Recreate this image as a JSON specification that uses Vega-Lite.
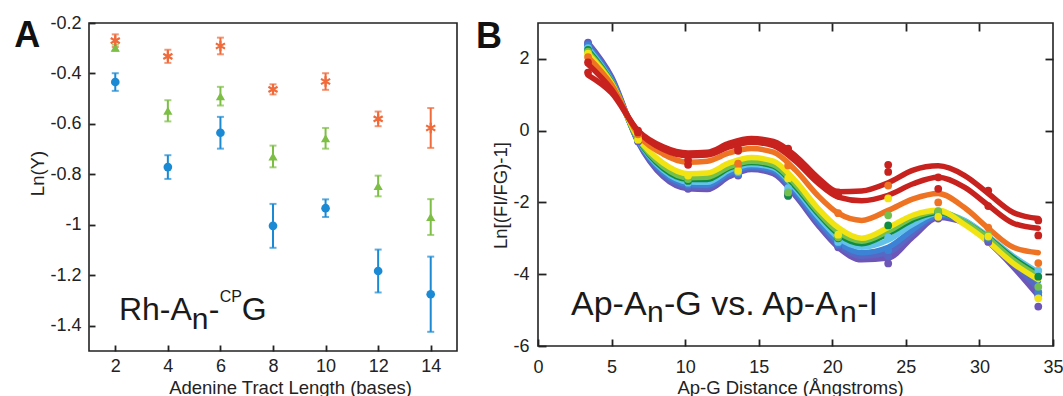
{
  "$schema": "https://vega.github.io/schema/vega-lite/v6.json",
  "background": "white",
  "padding": {"left": 13, "top": 13, "right": 0, "bottom": 0},
  "spacing": 17,
  "resolve": {"scale": {"color": "independent"}},
  "config": {
    "font": "Liberation Sans",
    "view": {"stroke": "#222", "strokeWidth": 1.6},
    "axis": {"grid": false, "domain": false, "tickColor": "#222", "tickWidth": 1.8, "labelColor": "#222", "titleColor": "#222", "labelFont": "Liberation Sans", "titleFont": "Liberation Sans", "titleFontWeight": "normal", "labelFontSize": 18, "titleFontSize": 18.5, "labelFlush": false}
  },
  "datasets": {
    "lenA": [
      {"n": 2, "s": "blue", "v": -0.434, "lo": -0.469, "hi": -0.399},
      {"n": 4, "s": "blue", "v": -0.771, "lo": -0.818, "hi": -0.724},
      {"n": 6, "s": "blue", "v": -0.635, "lo": -0.698, "hi": -0.572},
      {"n": 8, "s": "blue", "v": -1.004, "lo": -1.091, "hi": -0.917},
      {"n": 10, "s": "blue", "v": -0.934, "lo": -0.969, "hi": -0.899},
      {"n": 12, "s": "blue", "v": -1.183, "lo": -1.268, "hi": -1.098},
      {"n": 14, "s": "blue", "v": -1.275, "lo": -1.424, "hi": -1.126},
      {"n": 2, "s": "green", "v": -0.298, "lo": -0.31, "hi": -0.286},
      {"n": 4, "s": "green", "v": -0.548, "lo": -0.59, "hi": -0.506},
      {"n": 6, "s": "green", "v": -0.49, "lo": -0.527, "hi": -0.453},
      {"n": 8, "s": "green", "v": -0.729, "lo": -0.772, "hi": -0.686},
      {"n": 10, "s": "green", "v": -0.657, "lo": -0.698, "hi": -0.616},
      {"n": 12, "s": "green", "v": -0.846, "lo": -0.887, "hi": -0.805},
      {"n": 14, "s": "green", "v": -0.969, "lo": -1.04, "hi": -0.898},
      {"n": 2, "s": "orange", "v": -0.27, "lo": -0.295, "hi": -0.245},
      {"n": 4, "s": "orange", "v": -0.332, "lo": -0.358, "hi": -0.306},
      {"n": 6, "s": "orange", "v": -0.291, "lo": -0.324, "hi": -0.258},
      {"n": 8, "s": "orange", "v": -0.463, "lo": -0.483, "hi": -0.443},
      {"n": 10, "s": "orange", "v": -0.432, "lo": -0.465, "hi": -0.399},
      {"n": 12, "s": "orange", "v": -0.58, "lo": -0.609, "hi": -0.551},
      {"n": 14, "s": "orange", "v": -0.616, "lo": -0.695, "hi": -0.537}
    ],
    "curves": [
      {"x":3.4,"k":"P","v":2.45},{"x":5,"k":"P","v":1.5},{"x":6.8,"k":"P","v":-0.32},{"x":8.5,"k":"P","v":-1.28},{"x":10.2,"k":"P","v":-1.62},{"x":11.5,"k":"P","v":-1.64},{"x":13,"k":"P","v":-1.28},{"x":14.5,"k":"P","v":-1.08},{"x":16,"k":"P","v":-1.2},{"x":17.5,"k":"P","v":-1.82},{"x":19,"k":"P","v":-2.62},{"x":20.4,"k":"P","v":-3.25},{"x":22,"k":"P","v":-3.6},{"x":23.8,"k":"P","v":-3.55},{"x":25.5,"k":"P","v":-2.95},{"x":27.2,"k":"P","v":-2.42},{"x":29,"k":"P","v":-2.58},{"x":30.6,"k":"P","v":-3.1},{"x":32.3,"k":"P","v":-3.8},{"x":34,"k":"P","v":-4.6},
      {"x":3.4,"k":"S","v":2.4},{"x":5,"k":"S","v":1.46},{"x":6.8,"k":"S","v":-0.3},{"x":8.5,"k":"S","v":-1.22},{"x":10.2,"k":"S","v":-1.56},{"x":11.5,"k":"S","v":-1.58},{"x":13,"k":"S","v":-1.23},{"x":14.5,"k":"S","v":-1.04},{"x":16,"k":"S","v":-1.15},{"x":17.5,"k":"S","v":-1.76},{"x":19,"k":"S","v":-2.55},{"x":20.4,"k":"S","v":-3.18},{"x":22,"k":"S","v":-3.5},{"x":23.8,"k":"S","v":-3.4},{"x":25.5,"k":"S","v":-2.85},{"x":27.2,"k":"S","v":-2.38},{"x":29,"k":"S","v":-2.55},{"x":30.6,"k":"S","v":-3.05},{"x":32.3,"k":"S","v":-3.7},{"x":34,"k":"S","v":-4.4},
      {"x":3.4,"k":"B","v":2.35},{"x":5,"k":"B","v":1.42},{"x":6.8,"k":"B","v":-0.28},{"x":8.5,"k":"B","v":-1.16},{"x":10.2,"k":"B","v":-1.5},{"x":11.5,"k":"B","v":-1.52},{"x":13,"k":"B","v":-1.18},{"x":14.5,"k":"B","v":-1.0},{"x":16,"k":"B","v":-1.1},{"x":17.5,"k":"B","v":-1.7},{"x":19,"k":"B","v":-2.48},{"x":20.4,"k":"B","v":-3.1},{"x":22,"k":"B","v":-3.4},{"x":23.8,"k":"B","v":-3.25},{"x":25.5,"k":"B","v":-2.75},{"x":27.2,"k":"B","v":-2.35},{"x":29,"k":"B","v":-2.52},{"x":30.6,"k":"B","v":-3.0},{"x":32.3,"k":"B","v":-3.6},{"x":34,"k":"B","v":-4.2},
      {"x":3.4,"k":"LB","v":2.3},{"x":5,"k":"LB","v":1.38},{"x":6.8,"k":"LB","v":-0.26},{"x":8.5,"k":"LB","v":-1.1},{"x":10.2,"k":"LB","v":-1.43},{"x":11.5,"k":"LB","v":-1.44},{"x":13,"k":"LB","v":-1.1},{"x":14.5,"k":"LB","v":-0.94},{"x":16,"k":"LB","v":-1.04},{"x":17.5,"k":"LB","v":-1.62},{"x":19,"k":"LB","v":-2.38},{"x":20.4,"k":"LB","v":-2.98},{"x":22,"k":"LB","v":-3.25},{"x":23.8,"k":"LB","v":-3.05},{"x":25.5,"k":"LB","v":-2.6},{"x":27.2,"k":"LB","v":-2.3},{"x":29,"k":"LB","v":-2.5},{"x":30.6,"k":"LB","v":-2.95},{"x":32.3,"k":"LB","v":-3.5},{"x":34,"k":"LB","v":-3.95},
      {"x":3.4,"k":"DG","v":2.25},{"x":5,"k":"DG","v":1.36},{"x":6.8,"k":"DG","v":-0.24},{"x":8.5,"k":"DG","v":-1.05},{"x":10.2,"k":"DG","v":-1.36},{"x":11.5,"k":"DG","v":-1.36},{"x":13,"k":"DG","v":-1.04},{"x":14.5,"k":"DG","v":-0.89},{"x":16,"k":"DG","v":-0.99},{"x":17.5,"k":"DG","v":-1.56},{"x":19,"k":"DG","v":-2.3},{"x":20.4,"k":"DG","v":-2.88},{"x":22,"k":"DG","v":-3.15},{"x":23.8,"k":"DG","v":-2.87},{"x":25.5,"k":"DG","v":-2.48},{"x":27.2,"k":"DG","v":-2.28},{"x":29,"k":"DG","v":-2.55},{"x":30.6,"k":"DG","v":-2.98},{"x":32.3,"k":"DG","v":-3.55},{"x":34,"k":"DG","v":-4.0},
      {"x":3.4,"k":"LG","v":2.2},{"x":5,"k":"LG","v":1.34},{"x":6.8,"k":"LG","v":-0.22},{"x":8.5,"k":"LG","v":-1.0},{"x":10.2,"k":"LG","v":-1.31},{"x":11.5,"k":"LG","v":-1.3},{"x":13,"k":"LG","v":-1.0},{"x":14.5,"k":"LG","v":-0.85},{"x":16,"k":"LG","v":-0.95},{"x":17.5,"k":"LG","v":-1.5},{"x":19,"k":"LG","v":-2.25},{"x":20.4,"k":"LG","v":-2.82},{"x":22,"k":"LG","v":-3.08},{"x":23.8,"k":"LG","v":-2.8},{"x":25.5,"k":"LG","v":-2.42},{"x":27.2,"k":"LG","v":-2.25},{"x":29,"k":"LG","v":-2.55},{"x":30.6,"k":"LG","v":-3.0},{"x":32.3,"k":"LG","v":-3.6},{"x":34,"k":"LG","v":-4.05},
      {"x":3.4,"k":"Y","v":2.15},{"x":5,"k":"Y","v":1.32},{"x":6.8,"k":"Y","v":-0.2},{"x":8.5,"k":"Y","v":-0.9},{"x":10.2,"k":"Y","v":-1.2},{"x":11.5,"k":"Y","v":-1.18},{"x":13,"k":"Y","v":-0.9},{"x":14.5,"k":"Y","v":-0.75},{"x":16,"k":"Y","v":-0.85},{"x":17.5,"k":"Y","v":-1.4},{"x":19,"k":"Y","v":-2.15},{"x":20.4,"k":"Y","v":-2.7},{"x":22,"k":"Y","v":-3.0},{"x":23.8,"k":"Y","v":-2.7},{"x":25.5,"k":"Y","v":-2.35},{"x":27.2,"k":"Y","v":-2.22},{"x":29,"k":"Y","v":-2.62},{"x":30.6,"k":"Y","v":-3.1},{"x":32.3,"k":"Y","v":-3.7},{"x":34,"k":"Y","v":-4.15},
      {"x":3.4,"k":"O","v":2.05},{"x":5,"k":"O","v":1.28},{"x":6.8,"k":"O","v":-0.1},{"x":8.5,"k":"O","v":-0.65},{"x":10.2,"k":"O","v":-0.88},{"x":11.5,"k":"O","v":-0.85},{"x":13,"k":"O","v":-0.62},{"x":14.5,"k":"O","v":-0.5},{"x":16,"k":"O","v":-0.6},{"x":17.5,"k":"O","v":-1.1},{"x":19,"k":"O","v":-1.8},{"x":20.4,"k":"O","v":-2.3},{"x":22,"k":"O","v":-2.5},{"x":23.8,"k":"O","v":-2.22},{"x":25.5,"k":"O","v":-1.9},{"x":27.2,"k":"O","v":-1.75},{"x":29,"k":"O","v":-2.15},{"x":30.6,"k":"O","v":-2.72},{"x":32.3,"k":"O","v":-3.25},{"x":34,"k":"O","v":-3.4},
      {"x":3.4,"k":"R2","v":1.85},{"x":5,"k":"R2","v":1.15},{"x":6.8,"k":"R2","v":-0.02},{"x":8.5,"k":"R2","v":-0.52},{"x":10.2,"k":"R2","v":-0.7},{"x":11.5,"k":"R2","v":-0.68},{"x":13,"k":"R2","v":-0.45},{"x":14.5,"k":"R2","v":-0.32},{"x":16,"k":"R2","v":-0.42},{"x":17.5,"k":"R2","v":-0.85},{"x":19,"k":"R2","v":-1.45},{"x":20.4,"k":"R2","v":-1.85},{"x":22,"k":"R2","v":-1.95},{"x":23.8,"k":"R2","v":-1.8},{"x":25.5,"k":"R2","v":-1.48},{"x":27.2,"k":"R2","v":-1.3},{"x":29,"k":"R2","v":-1.58},{"x":30.6,"k":"R2","v":-2.08},{"x":32.3,"k":"R2","v":-2.58},{"x":34,"k":"R2","v":-2.72},
      {"x":3.4,"k":"R1","v":1.55},{"x":5,"k":"R1","v":1.05},{"x":6.8,"k":"R1","v":0.0},{"x":8.5,"k":"R1","v":-0.45},{"x":10.2,"k":"R1","v":-0.62},{"x":11.5,"k":"R1","v":-0.6},{"x":13,"k":"R1","v":-0.35},{"x":14.5,"k":"R1","v":-0.22},{"x":16,"k":"R1","v":-0.3},{"x":17.5,"k":"R1","v":-0.7},{"x":19,"k":"R1","v":-1.3},{"x":20.4,"k":"R1","v":-1.7},{"x":22,"k":"R1","v":-1.68},{"x":23.8,"k":"R1","v":-1.45},{"x":25.5,"k":"R1","v":-1.1},{"x":27.2,"k":"R1","v":-0.98},{"x":29,"k":"R1","v":-1.25},{"x":30.6,"k":"R1","v":-1.75},{"x":32.3,"k":"R1","v":-2.28},{"x":34,"k":"R1","v":-2.45}
    ],
    "dots": [
      {"x":3.4,"k":"P","v":2.45},{"x":6.8,"k":"P","v":-0.3},{"x":10.2,"k":"P","v":-1.62},{"x":13.6,"k":"P","v":-1.25},{"x":17,"k":"P","v":-1.82},{"x":20.4,"k":"P","v":-3.25},{"x":23.8,"k":"P","v":-3.7},{"x":27.2,"k":"P","v":-2.45},{"x":30.6,"k":"P","v":-3.1},{"x":34,"k":"P","v":-4.9},
      {"x":3.4,"k":"S","v":2.42},{"x":6.8,"k":"S","v":-0.28},{"x":10.2,"k":"S","v":-1.56},{"x":13.6,"k":"S","v":-1.22},{"x":17,"k":"S","v":-1.76},{"x":20.4,"k":"S","v":-3.2},{"x":23.8,"k":"S","v":-3.5},{"x":27.2,"k":"S","v":-2.4},{"x":30.6,"k":"S","v":-3.05},{"x":34,"k":"S","v":-4.6},
      {"x":3.4,"k":"B","v":2.38},{"x":6.8,"k":"B","v":-0.26},{"x":10.2,"k":"B","v":-1.5},{"x":13.6,"k":"B","v":-1.2},{"x":17,"k":"B","v":-1.7},{"x":20.4,"k":"B","v":-3.15},{"x":23.8,"k":"B","v":-3.33},{"x":27.2,"k":"B","v":-2.35},{"x":30.6,"k":"B","v":-3.0},{"x":34,"k":"B","v":-4.5},
      {"x":3.4,"k":"LB","v":2.3},{"x":6.8,"k":"LB","v":-0.24},{"x":10.2,"k":"LB","v":-1.45},{"x":13.6,"k":"LB","v":-1.15},{"x":17,"k":"LB","v":-1.6},{"x":20.4,"k":"LB","v":-3.1},{"x":23.8,"k":"LB","v":-2.97},{"x":27.2,"k":"LB","v":-2.24},{"x":30.6,"k":"LB","v":-2.95},{"x":34,"k":"LB","v":-3.9},
      {"x":3.4,"k":"DG","v":2.25},{"x":6.8,"k":"DG","v":-0.22},{"x":10.2,"k":"DG","v":-1.4},{"x":13.6,"k":"DG","v":-1.1},{"x":17,"k":"DG","v":-1.8},{"x":20.4,"k":"DG","v":-3.0},{"x":23.8,"k":"DG","v":-2.64},{"x":27.2,"k":"DG","v":-2.28},{"x":30.6,"k":"DG","v":-2.95},{"x":34,"k":"DG","v":-4.07},
      {"x":3.4,"k":"LG","v":2.2},{"x":6.8,"k":"LG","v":-0.22},{"x":10.2,"k":"LG","v":-1.35},{"x":13.6,"k":"LG","v":-1.05},{"x":17,"k":"LG","v":-1.72},{"x":20.4,"k":"LG","v":-2.97},{"x":23.8,"k":"LG","v":-2.36},{"x":27.2,"k":"LG","v":-2.25},{"x":30.6,"k":"LG","v":-2.9},{"x":34,"k":"LG","v":-4.35},
      {"x":3.4,"k":"Y","v":2.15},{"x":6.8,"k":"Y","v":-0.25},{"x":10.2,"k":"Y","v":-1.25},{"x":13.6,"k":"Y","v":-1.12},{"x":17,"k":"Y","v":-1.33},{"x":20.4,"k":"Y","v":-2.9},{"x":23.8,"k":"Y","v":-1.89},{"x":27.2,"k":"Y","v":-2.4},{"x":30.6,"k":"Y","v":-2.95},{"x":34,"k":"Y","v":-4.67},
      {"x":3.4,"k":"O","v":2.05},{"x":6.8,"k":"O","v":-0.1},{"x":10.2,"k":"O","v":-0.9},{"x":13.6,"k":"O","v":-0.92},{"x":17,"k":"O","v":-0.97},{"x":20.4,"k":"O","v":-2.3},{"x":23.8,"k":"O","v":-1.53},{"x":27.2,"k":"O","v":-2.0},{"x":30.6,"k":"O","v":-2.7},{"x":34,"k":"O","v":-3.69},
      {"x":3.4,"k":"R2","v":1.9},{"x":6.8,"k":"R2","v":-0.05},{"x":10.2,"k":"R2","v":-0.82},{"x":13.6,"k":"R2","v":-0.56},{"x":17,"k":"R2","v":-0.62},{"x":20.4,"k":"R2","v":-1.8},{"x":23.8,"k":"R2","v":-1.15},{"x":27.2,"k":"R2","v":-1.62},{"x":30.6,"k":"R2","v":-2.1},{"x":34,"k":"R2","v":-2.92},
      {"x":3.4,"k":"R1","v":1.62},{"x":6.8,"k":"R1","v":0.0},{"x":10.2,"k":"R1","v":-0.95},{"x":13.6,"k":"R1","v":-0.5},{"x":17,"k":"R1","v":-0.5},{"x":20.4,"k":"R1","v":-1.72},{"x":23.8,"k":"R1","v":-0.95},{"x":27.2,"k":"R1","v":-1.3},{"x":30.6,"k":"R1","v":-1.67},{"x":34,"k":"R1","v":-2.5}
    ]
  },
  "hconcat": [
    {
      "width": 368,
      "height": 328,
      "layer": [
        {
          "data": {"name": "lenA"},
          "mark": {"type": "rule", "strokeWidth": 2},
          "encoding": {
            "x": {"field": "n", "type": "quantitative", "scale": {"domain": [1, 15]}, "axis": {"values": [2, 4, 6, 8, 10, 12, 14], "tickSize": -6, "labelPadding": 12, "title": "Adenine Tract Length (bases)", "titleX": 201, "titleY": 42, "titleBaseline": "alphabetic", "titleAnchor": "middle"}},
            "y": {"field": "lo", "type": "quantitative", "scale": {"domain": [-1.5, -0.2]}, "axis": {"values": [-1.4, -1.2, -1, -0.8, -0.6, -0.4, -0.2], "labelExpr": "'' + datum.value", "tickSize": -6, "labelPadding": 14, "title": "Ln(Y)", "titleX": -46, "titleY": 150, "titleBaseline": "alphabetic", "titleAnchor": "middle"}},
            "y2": {"field": "hi"},
            "color": {"field": "s", "type": "nominal", "scale": {"domain": ["blue", "green", "orange"], "range": ["#1A8AD4", "#7DBE45", "#F06A3A"]}, "legend": null}
          }
        },
        {
          "data": {"name": "lenA"},
          "mark": {"type": "tick", "orient": "horizontal", "size": 7, "thickness": 2},
          "encoding": {
            "x": {"field": "n", "type": "quantitative"},
            "y": {"field": "lo", "type": "quantitative"},
            "color": {"field": "s", "type": "nominal", "legend": null}
          }
        },
        {
          "data": {"name": "lenA"},
          "mark": {"type": "tick", "orient": "horizontal", "size": 7, "thickness": 2},
          "encoding": {
            "x": {"field": "n", "type": "quantitative"},
            "y": {"field": "hi", "type": "quantitative"},
            "color": {"field": "s", "type": "nominal", "legend": null}
          }
        },
        {
          "data": {"name": "lenA"},
          "transform": [{"filter": "datum.s === 'blue'"}],
          "mark": {"type": "point", "shape": "circle", "filled": true, "size": 75, "opacity": 1},
          "encoding": {
            "x": {"field": "n", "type": "quantitative"},
            "y": {"field": "v", "type": "quantitative"},
            "color": {"field": "s", "type": "nominal", "legend": null}
          }
        },
        {
          "data": {"name": "lenA"},
          "transform": [{"filter": "datum.s === 'green'"}],
          "mark": {"type": "point", "shape": "triangle-up", "filled": true, "size": 85, "opacity": 1},
          "encoding": {
            "x": {"field": "n", "type": "quantitative"},
            "y": {"field": "v", "type": "quantitative"},
            "color": {"field": "s", "type": "nominal", "legend": null}
          }
        },
        {
          "data": {"name": "lenA"},
          "transform": [{"filter": "datum.s === 'orange'"}],
          "mark": {"type": "point", "shape": "M0,-1L0,1M-0.87,-0.5L0.87,0.5M-0.87,0.5L0.87,-0.5", "filled": false, "size": 110, "strokeWidth": 2.2, "opacity": 1},
          "encoding": {
            "x": {"field": "n", "type": "quantitative"},
            "y": {"field": "v", "type": "quantitative"},
            "color": {"field": "s", "type": "nominal", "legend": null}
          }
        },
        {
          "data": {"values": [{}]},
          "mark": {"type": "text", "text": "A", "fontSize": 36, "fontWeight": "bold", "align": "left", "baseline": "alphabetic", "color": "#111"},
          "encoding": {"x": {"datum": -1.848, "type": "quantitative"}, "y": {"datum": -0.295, "type": "quantitative"}}
        },
        {
          "data": {"values": [{}]},
          "mark": {"type": "text", "text": "Rh-A", "fontSize": 32, "fontWeight": "normal", "align": "left", "baseline": "alphabetic", "color": "#1a1a1a"},
          "encoding": {"x": {"datum": 2.139, "type": "quantitative"}, "y": {"datum": -1.376, "type": "quantitative"}}
        },
        {
          "data": {"values": [{}]},
          "mark": {"type": "text", "text": "n", "fontSize": 30, "fontWeight": "normal", "align": "left", "baseline": "alphabetic", "color": "#1a1a1a"},
          "encoding": {"x": {"datum": 4.912, "type": "quantitative"}, "y": {"datum": -1.412, "type": "quantitative"}}
        },
        {
          "data": {"values": [{}]},
          "mark": {"type": "text", "text": "-", "fontSize": 32, "fontWeight": "normal", "align": "left", "baseline": "alphabetic", "color": "#1a1a1a"},
          "encoding": {"x": {"datum": 5.557, "type": "quantitative"}, "y": {"datum": -1.376, "type": "quantitative"}}
        },
        {
          "data": {"values": [{}]},
          "mark": {"type": "text", "text": "CP", "fontSize": 16, "fontWeight": "normal", "align": "left", "baseline": "alphabetic", "color": "#1a1a1a"},
          "encoding": {"x": {"datum": 5.975, "type": "quantitative"}, "y": {"datum": -1.305, "type": "quantitative"}}
        },
        {
          "data": {"values": [{}]},
          "mark": {"type": "text", "text": "G", "fontSize": 32, "fontWeight": "normal", "align": "left", "baseline": "alphabetic", "color": "#1a1a1a"},
          "encoding": {"x": {"datum": 6.811, "type": "quantitative"}, "y": {"datum": -1.376, "type": "quantitative"}}
        }
      ]
    },
    {
      "width": 515,
      "height": 323,
      "resolve": {"axis": {"x": "independent", "y": "independent"}},
      "layer": [
        {
          "data": {"name": "curves"},
          "mark": {"type": "line", "interpolate": "monotone", "strokeWidth": 5.5, "strokeCap": "round", "strokeJoin": "round"},
          "encoding": {
            "x": {"field": "x", "type": "quantitative", "scale": {"domain": [0, 35]}, "axis": {"values": [0, 5, 10, 15, 20, 25, 30, 35], "tickSize": -7, "labelPadding": 19, "title": "Ap-G Distance (Ångstroms)", "titleX": 252, "titleY": 47, "titleBaseline": "alphabetic", "titleAnchor": "middle"}},
            "y": {"field": "v", "type": "quantitative", "scale": {"domain": [-6, 3]}, "axis": {"values": [-6, -4, -2, 0, 2], "labelExpr": "'' + datum.value", "tickSize": -8, "labelPadding": 17, "title": "Ln[(FI/FG)-1]", "titleX": -32, "titleY": 172, "titleBaseline": "alphabetic", "titleAnchor": "middle"}},
            "color": {"field": "k", "type": "nominal", "scale": {"domain": ["P", "S", "B", "LB", "DG", "LG", "Y", "O", "R2", "R1"], "range": ["#6E56B8", "#5668C4", "#3C83D6", "#62C2EA", "#0E8C44", "#74C04C", "#F2E413", "#EE7322", "#C8221F", "#C8221F"]}, "legend": null}
          }
        },
        {
          "data": {"name": "dots"},
          "mark": {"type": "circle", "size": 60, "opacity": 1},
          "encoding": {
            "x": {"field": "x", "type": "quantitative", "axis": null},
            "y": {"field": "v", "type": "quantitative", "axis": null},
            "color": {"field": "k", "type": "nominal", "legend": null}
          }
        },
        {
          "data": {"name": "dots"},
          "mark": {"type": "point", "opacity": 0},
          "encoding": {
            "x": {"field": "x", "type": "quantitative", "axis": {"orient": "top", "values": [5, 10, 15, 20, 25, 30], "labels": false, "title": null, "tickSize": -8}},
            "y": {"field": "v", "type": "quantitative", "axis": {"orient": "right", "values": [-4, -2, 0, 2], "labels": false, "title": null, "tickSize": -8}}
          }
        },
        {
          "data": {"values": [{}]},
          "mark": {"type": "text", "text": "B", "fontSize": 36, "fontWeight": "bold", "align": "left", "baseline": "alphabetic", "color": "#111"},
          "encoding": {"x": {"datum": -4.215, "type": "quantitative", "axis": null}, "y": {"datum": 2.306, "type": "quantitative", "axis": null}}
        },
        {
          "data": {"values": [{}]},
          "mark": {"type": "text", "text": "Ap-A", "fontSize": 34, "fontWeight": "normal", "align": "left", "baseline": "alphabetic", "color": "#1a1a1a"},
          "encoding": {"x": {"datum": 2.243, "type": "quantitative", "axis": null}, "y": {"datum": -5.139, "type": "quantitative", "axis": null}}
        },
        {
          "data": {"values": [{}]},
          "mark": {"type": "text", "text": "n", "fontSize": 30, "fontWeight": "normal", "align": "left", "baseline": "alphabetic", "color": "#1a1a1a"},
          "encoding": {"x": {"datum": 7.41, "type": "quantitative", "axis": null}, "y": {"datum": -5.333, "type": "quantitative", "axis": null}}
        },
        {
          "data": {"values": [{}]},
          "mark": {"type": "text", "text": "-G vs. Ap-A", "fontSize": 34, "fontWeight": "normal", "align": "left", "baseline": "alphabetic", "color": "#1a1a1a"},
          "encoding": {"x": {"datum": 8.566, "type": "quantitative", "axis": null}, "y": {"datum": -5.139, "type": "quantitative", "axis": null}}
        },
        {
          "data": {"values": [{}]},
          "mark": {"type": "text", "text": "n", "fontSize": 30, "fontWeight": "normal", "align": "left", "baseline": "alphabetic", "color": "#1a1a1a"},
          "encoding": {"x": {"datum": 20.53, "type": "quantitative", "axis": null}, "y": {"datum": -5.333, "type": "quantitative", "axis": null}}
        },
        {
          "data": {"values": [{}]},
          "mark": {"type": "text", "text": "-I", "fontSize": 34, "fontWeight": "normal", "align": "left", "baseline": "alphabetic", "color": "#1a1a1a"},
          "encoding": {"x": {"datum": 21.69, "type": "quantitative", "axis": null}, "y": {"datum": -5.139, "type": "quantitative", "axis": null}}
        }
      ]
    }
  ]
}
